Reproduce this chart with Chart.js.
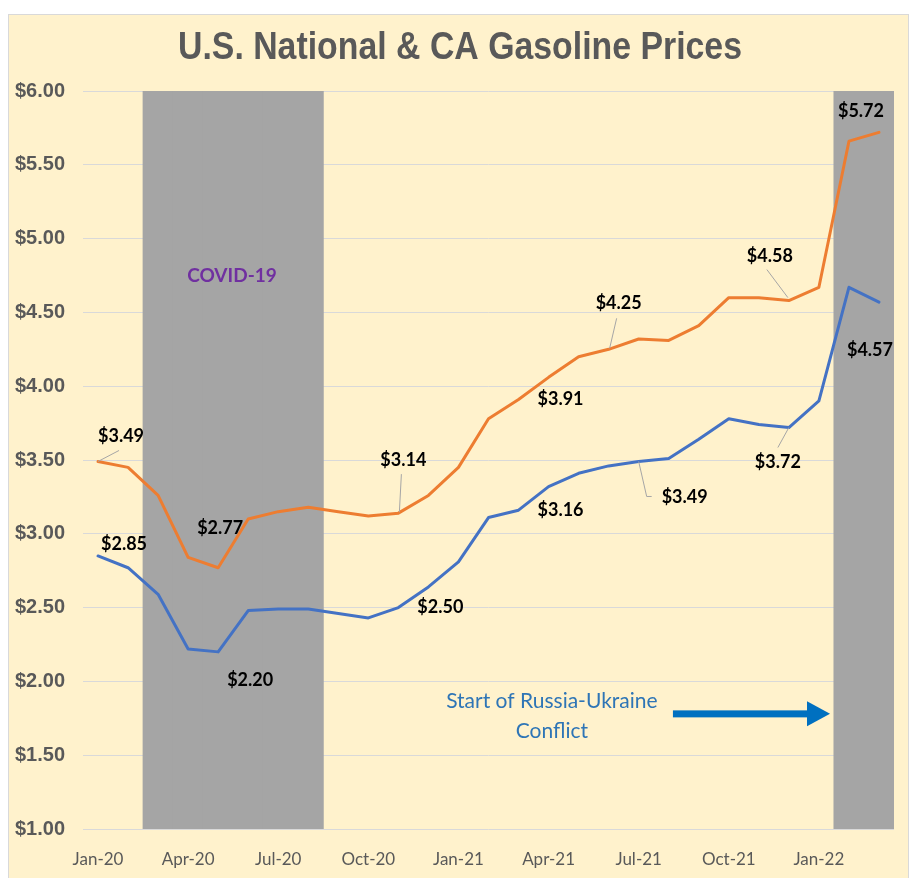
<!DOCTYPE html>
<html><head><meta charset="utf-8">
<script src="https://cdn.jsdelivr.net/npm/chart.js@4"></script>
<style>html,body{margin:0;padding:0;background:#fff;}#wrap{width:915px;height:878px;}</style>
</head><body><div id="wrap"><canvas id="c" width="915" height="878"></canvas></div>
<script>
const months = ['Jan-20','Feb-20','Mar-20','Apr-20','May-20','Jun-20','Jul-20','Aug-20','Sep-20','Oct-20','Nov-20','Dec-20',
  'Jan-21','Feb-21','Mar-21','Apr-21','May-21','Jun-21','Jul-21','Aug-21','Sep-21','Oct-21','Nov-21','Dec-21',
  'Jan-22','Feb-22','Mar-22'];
const caPrices = [3.49,3.45,3.26,2.84,2.77,3.10,3.15,3.18,3.15,3.12,3.14,3.26,3.45,3.78,3.91,4.06,4.20,4.25,4.32,4.31,4.41,4.60,4.60,4.58,4.67,5.66,5.72];
const usPrices = [2.85,2.77,2.59,2.22,2.20,2.48,2.49,2.49,2.46,2.43,2.50,2.64,2.81,3.11,3.16,3.32,3.41,3.46,3.49,3.51,3.64,3.78,3.74,3.72,3.90,4.67,4.57];
const yTickValues = [1,1.5,2,2.5,3,3.5,4,4.5,5,5.5,6];
const xTickEvery = 3;
const covidMonths = ['Mar-20','Apr-20','May-20','Jun-20','Jul-20','Aug-20'];
const conflictMonths = ['Feb-22','Mar-22'];
const bandRange = [1,6];
const titleText = 'U.S. National & CA Gasoline Prices';
const covidText = 'COVID-19';
const conflictText = ['Start of Russia-Ukraine','Conflict'];

// which points get value labels: dataset, index, offsets (styling only)
const labelDefs = [
  {ds:0,i:0,dx:23,dy:-25,leader:[[0,0],[21,-11]]},
  {ds:1,i:0,dx:26,dy:-12},
  {ds:0,i:4,dx:2,dy:-40},
  {ds:1,i:4,dx:32,dy:28},
  {ds:0,i:10,dx:5,dy:-53,leader:[[1,-1],[3,-39]]},
  {ds:1,i:10,dx:42,dy:0},
  {ds:0,i:14,dx:42,dy:0},
  {ds:1,i:14,dx:42,dy:0},
  {ds:0,i:17,dx:10,dy:-46,leader:[[1,-1],[8,-31]]},
  {ds:1,i:18,dx:46,dy:36,leader:[[0,0],[8,35],[13,35]]},
  {ds:0,i:23,dx:-19,dy:-44,leader:[[-1,-3],[-22,-31]]},
  {ds:1,i:23,dx:-11,dy:35,leader:[[0,0],[-11,20]]},
  {ds:0,i:26,dx:-18,dy:-21},
  {ds:1,i:26,dx:-9,dy:48}
];

const bandData = months.map(m => (covidMonths.includes(m) || conflictMonths.includes(m)) ? bandRange : null);

const bgPlugin = {
  id:'bg',
  beforeDraw(chart){
    const c = chart.ctx;
    c.save();
    c.fillStyle = '#ffffff';
    c.fillRect(0,0,chart.width,chart.height);
    c.fillStyle = '#FFF2CC';
    c.fillRect(8,14,901,864);
    c.strokeStyle = '#D9D9D9';
    c.lineWidth = 1;
    c.strokeRect(8.5,14.5,900,870);
    c.restore();
  }
};

function condensedText(c, text, cx, cy, targetWidth){
  const w = c.measureText(text).width;
  const k = Math.min(1, targetWidth / w);
  c.save();
  c.translate(cx, cy);
  c.scale(k, 1);
  c.fillText(text, 0, 0);
  c.restore();
}

const overlayPlugin = {
  id:'overlay',
  afterDraw(chart){
    const c = chart.ctx;
    const xs = chart.scales.x, ys = chart.scales.y;
    c.save();
    // title
    c.fillStyle = '#595959';
    c.font = "bold 39px 'Liberation Sans', Arial, sans-serif";
    c.textAlign = 'center';
    c.textBaseline = 'middle';
    condensedText(c, titleText, 460, 48, 564);

    // COVID text
    c.fillStyle = '#7030A0';
    c.font = "bold 19px Lato, sans-serif";
    c.fillText(covidText, xs.getPixelForValue(4.46), ys.getPixelForValue(4.75));

    // conflict text
    c.fillStyle = '#2E75B6';
    c.font = "21px Lato, sans-serif";
    c.fillText(conflictText[0], xs.getPixelForValue(15.11), ys.getPixelForValue(1.867));
    c.fillText(conflictText[1], xs.getPixelForValue(15.11), ys.getPixelForValue(1.664));

    // arrow
    const ax1 = xs.getPixelForValue(19.14), ax2 = xs.getPixelForValue(24.37), ay = ys.getPixelForValue(1.78);
    c.fillStyle = '#0070C0';
    c.fillRect(ax1, ay-3.5, (ax2-23)-ax1+1, 7);
    c.beginPath();
    c.moveTo(ax2-23, ay-12.5);
    c.lineTo(ax2, ay);
    c.lineTo(ax2-23, ay+12.5);
    c.closePath();
    c.fill();

    // value labels
    c.font = "bold 18px Lato, sans-serif";
    labelDefs.forEach(d => {
      const p = chart.getDatasetMeta(d.ds).data[d.i];
      const v = chart.data.datasets[d.ds].data[d.i];
      if (d.leader){
        c.strokeStyle = '#A6A6A6';
        c.lineWidth = 1;
        c.beginPath();
        d.leader.forEach((pt,k) => { const X=p.x+pt[0], Y=p.y+pt[1]; if(k===0) c.moveTo(X,Y); else c.lineTo(X,Y); });
        c.stroke();
      }
      c.fillStyle = '#000000';
      c.fillText('$' + v.toFixed(2), p.x + d.dx, p.y + d.dy);
    });
    c.restore();
  }
};

function build(){
  new Chart(document.getElementById('c'), {
    type:'line',
    data:{
      labels: months,
      datasets:[
        {type:'line', label:'CA', data:caPrices, borderColor:'#ED7D31', borderWidth:3, pointRadius:0, tension:0, borderJoinStyle:'round', borderCapStyle:'round', order:1},
        {type:'line', label:'U.S.', data:usPrices, borderColor:'#4472C4', borderWidth:3, pointRadius:0, tension:0, borderJoinStyle:'round', borderCapStyle:'round', order:2},
        {type:'bar', label:'bands', data:bandData, backgroundColor:'#A5A5A5', borderWidth:0, barPercentage:1.03, categoryPercentage:1, grouped:false, order:3}
      ]
    },
    options:{
      responsive:false,
      animation:false,
      layout:{padding:{left:0,right:21,top:91,bottom:0}},
      plugins:{legend:{display:false}, tooltip:{enabled:false}, title:{display:false}},
      scales:{
        x:{
          offset:true,
          grid:{display:false},
          border:{display:false},
          ticks:{autoSkip:false, maxRotation:0, minRotation:0,
            callback:(v,i)=> (i % xTickEvery === 0) ? months[i] : '',
            color:'#595959', font:{family:'Lato', size:17}, padding:12},
          afterFit:s=>{ s.height = 49; }
        },
        y:{
          min:1, max:6,
          afterBuildTicks:s=>{ s.ticks = yTickValues.map(v=>({value:v})); },
          ticks:{callback:v=>'$' + Number(v).toFixed(2), color:'#595959',
            font:{family:"'Liberation Sans', Arial, sans-serif", weight:'bold', size:20}, padding:18},
          grid:{color:'#D9D9D9', drawTicks:false, lineWidth:1},
          border:{display:false},
          afterFit:s=>{ s.width = 83; }
        }
      }
    },
    plugins:[bgPlugin, overlayPlugin]
  });
}
const fontsToLoad = ["bold 18px Lato","21px Lato","bold 20px 'Liberation Sans'"];
Promise.all(fontsToLoad.map(f=>document.fonts.load(f).catch(()=>null))).then(build, build);
</script>
</body></html>
